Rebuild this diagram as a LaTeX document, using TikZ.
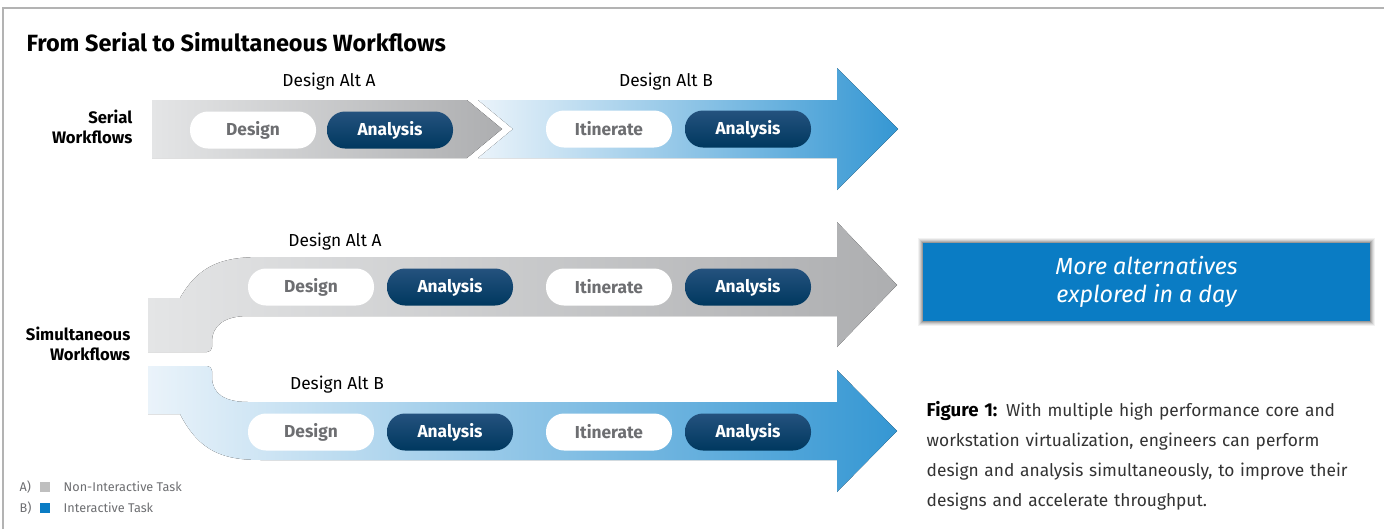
\documentclass[tikz,border=0pt]{standalone}
\usepackage{fontspec}
\setmainfont{Fira Sans}
\usetikzlibrary{positioning}
\definecolor{grayL}{HTML}{E4E5E6}
\definecolor{grayD}{HTML}{ADAEB0}
\definecolor{blueL}{HTML}{EAF3FA}
\definecolor{blueD}{HTML}{3597D3}
\definecolor{navyT}{HTML}{24527E}
\definecolor{navyM}{HTML}{8CA9C8}
\definecolor{navyB}{HTML}{00385F}
\definecolor{boxblue}{HTML}{0A7CC4}
\definecolor{framegray}{HTML}{B3B3B3}
\definecolor{softgray}{HTML}{6D6E71}

\begin{document}
\begin{tikzpicture}[x=0.75pt,y=-0.75pt,
  pill/.style={rounded corners=13.5pt, minimum width=94.5pt, minimum height=27.75pt, inner sep=0pt, font=\bfseries\fontsize{13}{15}\selectfont},
  idle/.style={pill, fill=white, text=softgray},
  busy/.style={pill, top color=navyT, middle color=navyM, bottom color=navyB, text=white},
  altlabel/.style={font=\fontsize{13}{15}\selectfont},
  rowlabel/.style={align=right, anchor=east, font=\bfseries\fontsize{12.5}{15}\selectfont},
  legendtext/.style={anchor=west, text=softgray, font=\fontsize{9.5}{11}\selectfont}]
		\useasboundingbox (0,0) rectangle (1384,529);
		\draw[framegray, line width=2.2pt] (3,529) -- (3,8) -- (1384,8);
		
		\node[anchor=west, font=\bfseries\fontsize{17.6}{20}\selectfont] (title) at (22,42) {From Serial to Simultaneous Workflows};
		
		% serial row
		\fill[left color=grayL, right color=grayD] (152,100) -- (467,100) -- (502,129) -- (467,158) -- (152,158) -- cycle;
		\fill[left color=blueL, right color=blueD] (478,100) -- (837,100) -- (837,68) -- (898,129) -- (837,190) -- (837,158) -- (478,158) -- (513,129) -- cycle;
		\node[rowlabel] (serial) at (137,127) {Serial\\Workflows};
		\node[altlabel] (serAltA) at (329,82) {Design Alt A};
		\node[altlabel] (serAltB) at (666,82) {Design Alt B};
		\node[idle] (serDesign) at (253,130) {Design};
		\node[busy] (serAnalysisA) at (390,130) {Analysis};
		\node[idle] (serItinerate) at (609,129) {Itinerate};
		\node[busy] (serAnalysisB) at (748,129) {Analysis};
		
		% simultaneous rows
		\fill[left color=grayL, right color=grayD] (148,352) -- (148,298) -- (180,298) .. controls (200,263) and (225,257) .. (262,257) -- (837,257) -- (837,222) -- (897,285) -- (837,347) -- (837,316) -- (248,316) .. controls (225,316) and (212,325) .. (212,342) -- (212,347) .. controls (212,350) and (210,352) .. (207,352) -- cycle;
		\fill[left color=blueL, right color=blueD] (148,366) -- (207,366) .. controls (210,366) and (212,368) .. (212,371) -- (212,377) .. controls (212,394) and (225,402) .. (248,402) -- (837,402) -- (837,370) -- (897,431) -- (837,492) -- (837,460) -- (262,460) .. controls (225,460) and (200,453) .. (180,414) -- (148,414) -- cycle;
		\node[rowlabel] (simul) at (135,344) {Simultaneous\\Workflows};
		\node[altlabel] (simAltA) at (335,242) {Design Alt A};
		\node[altlabel] (simAltB) at (337,385) {Design Alt B};
		\foreach \row/\y in {A/287,B/432}{
			\node[idle] (sim\row Design) at (311,\y) {Design};
			\node[busy] (sim\row AnalysisA) at (450,\y) {Analysis};
			\node[idle] (sim\row Itinerate) at (609,\y) {Itinerate};
			\node[busy] (sim\row AnalysisB) at (748,\y) {Analysis};
		}
		
		% result box
		\foreach \d/\o in {5/0.05,4/0.07,3/0.09,2/0.12,1/0.15}
			\fill[black, opacity=\o] (923-\d,243-\d) rectangle (1370+\d,321+\d);
		\node[fill=boxblue, minimum width=335pt, minimum height=58.5pt, inner sep=0pt, text=white, align=center, font=\itshape\fontsize{17.5}{21}\selectfont] (more) at (1146.5,282) {More alternatives\\explored in a day};
		
		\node[anchor=north west, align=left, text width=345pt, text=black!80, font=\fontsize{13}{22.5}\selectfont] (caption) at (922,397) {\textbf{\color{black}\fontsize{14}{22.5}\selectfont Figure 1:} With multiple high performance core and\\workstation virtualization, engineers can perform\\design and analysis simultaneously, to improve their\\designs and accelerate throughput.};
		
		% legend
		\node[legendtext] (keyA) at (15,487) {A)};
		\fill[black!25] (40,482) rectangle (50,492);
		\node[legendtext] (nonint) at (59,487) {Non-Interactive Task};
		\node[legendtext] (keyB) at (15,508) {B)};
		\fill[boxblue] (40,503) rectangle (50,513);
		\node[legendtext] (inter) at (59,508) {Interactive Task};
	\end{tikzpicture}
\end{document}
